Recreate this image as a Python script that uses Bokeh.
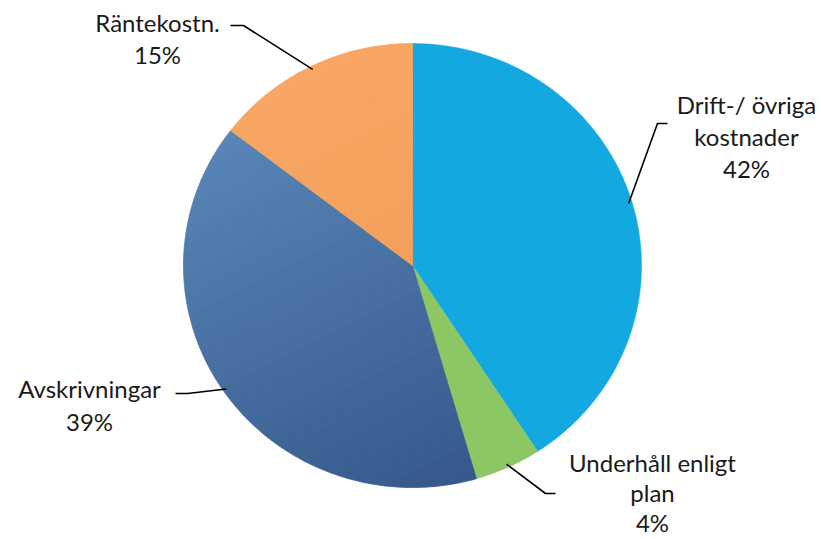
import math
from bokeh.plotting import figure
from bokeh.models import Range1d
from bokeh.embed import file_html
from bokeh.resources import INLINE
from bokeh.core.properties import value

# ---- data (clockwise from 12 o'clock) ----
categories = ["Drift-/ övriga kostnader", "Underhåll enligt plan", "Avskrivningar", "Räntekostn."]
shares = [40.8, 4.7, 39.9, 14.6]          # slice sizes
pct_labels = ["42%", "4%", "39%", "15%"]  # printed labels
label_lines = [["Drift-/ övriga", "kostnader"], ["Underhåll enligt", "plan"], ["Avskrivningar"], ["Räntekostn."]]
color_start = ["#14A8E0", "#8CC764", "#5C88BA", "#F7A664"]
color_end = ["#14A8E0", "#8CC764", "#33578A", "#F19A52"]

# ---- layout ----
W, H = 821, 539
CX, CY, RX, RY = 412, 265, 229, 222
label_pos = [(746, 104, 32), (652, 462, 30), (89, 388, 33), (157, 22, 32)]  # x, first baseline, line step
elbows = [((657, 123), (667, 123)), ((545, 493), (555, 493)), ((187, 393), (175, 393)), ((243, 25), (230, 25))]
grad_dir = (0.45, 0.89)

p = figure(width=W, height=H, x_range=Range1d(0, W), y_range=Range1d(H, 0),
           output_backend="svg", toolbar_location=None, min_border=0)
p.axis.visible = False
p.grid.visible = False
p.outline_line_color = None
p.background_fill_color = "white"


def hex2rgb(h):
    h = h.lstrip("#")
    return tuple(int(h[i:i + 2], 16) for i in (0, 2, 4))


def mix(c0, c1, t):
    a, b = hex2rgb(c0), hex2rgb(c1)
    return "#%02x%02x%02x" % tuple(int(round(a[i] + (b[i] - a[i]) * t)) for i in range(3))


def clip(poly, a, b, c):
    out = []
    n = len(poly)
    for i in range(n):
        P, Q = poly[i], poly[(i + 1) % n]
        fp = a * P[0] + b * P[1] + c
        fq = a * Q[0] + b * Q[1] + c
        if fp >= 0:
            out.append(P)
        if (fp >= 0) != (fq >= 0):
            t = fp / (fp - fq)
            out.append((P[0] + (Q[0] - P[0]) * t, P[1] + (Q[1] - P[1]) * t))
    return out


def pt(theta_deg, f=1.0):
    t = math.radians(theta_deg)
    return (CX + f * RX * math.sin(t), CY - f * RY * math.cos(t))


total = sum(shares)
acc = 0.0
mids = []
for i, s in enumerate(shares):
    a0 = acc / total * 360.0
    a1 = (acc + s) / total * 360.0
    acc += s
    mids.append((a0 + a1) / 2)
    n = max(4, int((a1 - a0) * 2))
    poly = [(CX, CY)] + [pt(a0 + (a1 - a0) * k / n) for k in range(n + 1)]
    if color_start[i] == color_end[i]:
        p.patch([q[0] for q in poly], [q[1] for q in poly], fill_color=color_start[i],
                line_color=color_start[i], line_width=0.5)
    else:
        dx, dy = grad_dir
        nb = 40
        R = max(RX, RY)
        for b in range(nb):
            t0 = -1 + 2 * b / nb
            t1 = -1 + 2 * (b + 1) / nb
            q = clip(poly, dx, dy, -(CX * dx + CY * dy) - t0 * R)
            if len(q) < 3:
                continue
            q = clip(q, -dx, -dy, (CX * dx + CY * dy) + t1 * R)
            if len(q) < 3:
                continue
            col = mix(color_start[i], color_end[i], (b + 0.5) / nb)
            p.patch([v[0] for v in q], [v[1] for v in q], fill_color=col, line_color=col, line_width=0.8)

# leader lines
for i, m in enumerate(mids):
    sx, sy = pt(m, 0.985)
    (ex, ey), (hx, hy) = elbows[i]
    p.line([sx, ex, hx], [sy, ey, hy], line_color="#000000", line_width=1.6)

# labels
for i, lines in enumerate(label_lines):
    x, y0, step = label_pos[i]
    texts = lines + [pct_labels[i]]
    p.text(x=[x] * len(texts), y=[y0 + step * k for k in range(len(texts))], text=texts,
           text_align="center", text_baseline="alphabetic", text_font=value("Lato"),
           text_font_size="24px", text_color="#1a1a1a")

open("out.html", "w").write(file_html(p, INLINE))
